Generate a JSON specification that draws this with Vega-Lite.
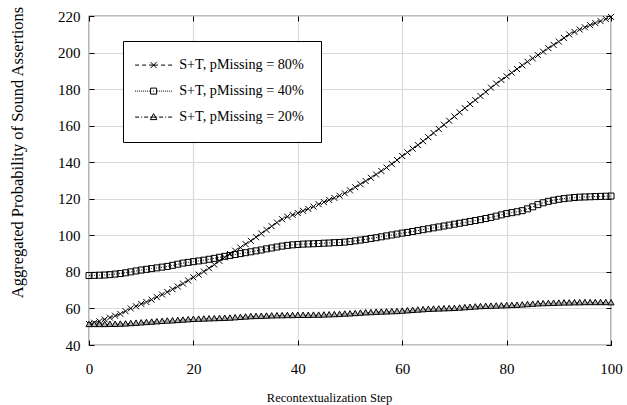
{
  "$schema": "https://vega.github.io/schema/vega-lite/v6.json",
  "width": 522,
  "height": 329,
  "autosize": {"type": "none"},
  "padding": {"left": 89, "top": 16, "right": 16, "bottom": 60},
  "config": {
    "font": "Liberation Serif",
    "view": {"stroke": "black", "strokeWidth": 1.2},
    "axis": {
      "labelFont": "Liberation Serif", "titleFont": "Liberation Serif",
      "labelFontSize": 15, "titleFontSize": 15, "titleFontWeight": "normal",
      "labelColor": "black", "titleColor": "black", "tickColor": "black",
      "domain": false, "gridColor": "#dadada", "gridWidth": 1.2,
      "tickSize": -5, "tickWidth": 1, "labelFlush": false
    }
  },
  "data": {"values": [
    {"step":0,"p80":51.5,"p40":78.0,"p20":51.2},
    {"step":1,"p80":52.2,"p40":78.1,"p20":51.2},
    {"step":2,"p80":53.0,"p40":78.2,"p20":51.2},
    {"step":3,"p80":54.0,"p40":78.3,"p20":51.2},
    {"step":4,"p80":55.0,"p40":78.5,"p20":51.3},
    {"step":5,"p80":56.0,"p40":78.8,"p20":51.3},
    {"step":6,"p80":57.0,"p40":79.1,"p20":51.4},
    {"step":7,"p80":58.5,"p40":79.5,"p20":51.5},
    {"step":8,"p80":60.0,"p40":80.0,"p20":51.7},
    {"step":9,"p80":61.2,"p40":80.5,"p20":51.9},
    {"step":10,"p80":62.5,"p40":81.0,"p20":52.1},
    {"step":11,"p80":63.5,"p40":81.4,"p20":52.3},
    {"step":12,"p80":64.8,"p40":81.8,"p20":52.5},
    {"step":13,"p80":66.2,"p40":82.2,"p20":52.7},
    {"step":14,"p80":67.6,"p40":82.6,"p20":52.9},
    {"step":15,"p80":69.0,"p40":83.0,"p20":53.1},
    {"step":16,"p80":70.5,"p40":83.6,"p20":53.2},
    {"step":17,"p80":72.0,"p40":84.2,"p20":53.4},
    {"step":18,"p80":73.6,"p40":84.8,"p20":53.6},
    {"step":19,"p80":75.3,"p40":85.2,"p20":53.8},
    {"step":20,"p80":77.0,"p40":85.6,"p20":54.0},
    {"step":21,"p80":78.5,"p40":86.0,"p20":54.1},
    {"step":22,"p80":80.2,"p40":86.4,"p20":54.2},
    {"step":23,"p80":82.0,"p40":86.9,"p20":54.3},
    {"step":24,"p80":84.0,"p40":87.4,"p20":54.4},
    {"step":25,"p80":86.0,"p40":88.0,"p20":54.5},
    {"step":26,"p80":88.0,"p40":88.5,"p20":54.6},
    {"step":27,"p80":89.8,"p40":89.0,"p20":54.7},
    {"step":28,"p80":91.6,"p40":89.5,"p20":54.9},
    {"step":29,"p80":93.3,"p40":90.0,"p20":55.1},
    {"step":30,"p80":95.2,"p40":90.5,"p20":55.3},
    {"step":31,"p80":97.0,"p40":91.0,"p20":55.5},
    {"step":32,"p80":99.0,"p40":91.5,"p20":55.6},
    {"step":33,"p80":101.0,"p40":92.0,"p20":55.7},
    {"step":34,"p80":103.0,"p40":92.6,"p20":55.8},
    {"step":35,"p80":105.0,"p40":93.1,"p20":55.9},
    {"step":36,"p80":107.0,"p40":93.6,"p20":56.0},
    {"step":37,"p80":108.8,"p40":94.1,"p20":56.0},
    {"step":38,"p80":110.2,"p40":94.5,"p20":56.1},
    {"step":39,"p80":111.2,"p40":94.8,"p20":56.1},
    {"step":40,"p80":112.2,"p40":95.0,"p20":56.2},
    {"step":41,"p80":113.4,"p40":95.2,"p20":56.2},
    {"step":42,"p80":114.5,"p40":95.3,"p20":56.2},
    {"step":43,"p80":115.7,"p40":95.4,"p20":56.3},
    {"step":44,"p80":117.0,"p40":95.5,"p20":56.3},
    {"step":45,"p80":118.2,"p40":95.7,"p20":56.4},
    {"step":46,"p80":119.4,"p40":95.8,"p20":56.5},
    {"step":47,"p80":120.5,"p40":96.0,"p20":56.6},
    {"step":48,"p80":121.7,"p40":96.1,"p20":56.7},
    {"step":49,"p80":123.0,"p40":96.3,"p20":56.9},
    {"step":50,"p80":124.6,"p40":96.6,"p20":57.0},
    {"step":51,"p80":126.3,"p40":97.0,"p20":57.2},
    {"step":52,"p80":128.0,"p40":97.4,"p20":57.4},
    {"step":53,"p80":129.7,"p40":97.8,"p20":57.6},
    {"step":54,"p80":131.5,"p40":98.3,"p20":57.7},
    {"step":55,"p80":133.3,"p40":98.7,"p20":57.9},
    {"step":56,"p80":135.2,"p40":99.2,"p20":58.0},
    {"step":57,"p80":137.1,"p40":99.7,"p20":58.1},
    {"step":58,"p80":139.1,"p40":100.2,"p20":58.2},
    {"step":59,"p80":141.2,"p40":100.7,"p20":58.3},
    {"step":60,"p80":143.4,"p40":101.2,"p20":58.5},
    {"step":61,"p80":145.4,"p40":101.6,"p20":58.7},
    {"step":62,"p80":147.4,"p40":102.1,"p20":58.9},
    {"step":63,"p80":149.4,"p40":102.6,"p20":59.1},
    {"step":64,"p80":151.5,"p40":103.1,"p20":59.3},
    {"step":65,"p80":153.7,"p40":103.6,"p20":59.5},
    {"step":66,"p80":156.0,"p40":104.1,"p20":59.6},
    {"step":67,"p80":158.2,"p40":104.6,"p20":59.7},
    {"step":68,"p80":160.5,"p40":105.1,"p20":59.8},
    {"step":69,"p80":162.7,"p40":105.6,"p20":59.9},
    {"step":70,"p80":165.0,"p40":106.1,"p20":60.0},
    {"step":71,"p80":167.3,"p40":106.6,"p20":60.2},
    {"step":72,"p80":169.6,"p40":107.1,"p20":60.4},
    {"step":73,"p80":171.8,"p40":107.6,"p20":60.6},
    {"step":74,"p80":174.0,"p40":108.1,"p20":60.8},
    {"step":75,"p80":176.2,"p40":108.6,"p20":61.0},
    {"step":76,"p80":178.5,"p40":109.2,"p20":61.1},
    {"step":77,"p80":180.8,"p40":109.8,"p20":61.2},
    {"step":78,"p80":183.0,"p40":110.5,"p20":61.3},
    {"step":79,"p80":185.0,"p40":111.2,"p20":61.4},
    {"step":80,"p80":187.0,"p40":111.9,"p20":61.5},
    {"step":81,"p80":189.0,"p40":112.4,"p20":61.6},
    {"step":82,"p80":191.0,"p40":112.9,"p20":61.7},
    {"step":83,"p80":193.0,"p40":113.5,"p20":61.9},
    {"step":84,"p80":195.0,"p40":114.5,"p20":62.1},
    {"step":85,"p80":196.8,"p40":115.6,"p20":62.3},
    {"step":86,"p80":198.6,"p40":116.8,"p20":62.5},
    {"step":87,"p80":200.5,"p40":117.8,"p20":62.6},
    {"step":88,"p80":202.4,"p40":118.6,"p20":62.7},
    {"step":89,"p80":204.2,"p40":119.2,"p20":62.8},
    {"step":90,"p80":206.0,"p40":119.7,"p20":62.9},
    {"step":91,"p80":208.0,"p40":120.1,"p20":63.0},
    {"step":92,"p80":209.9,"p40":120.4,"p20":63.0},
    {"step":93,"p80":211.3,"p40":120.7,"p20":63.1},
    {"step":94,"p80":212.6,"p40":120.9,"p20":63.1},
    {"step":95,"p80":213.8,"p40":121.0,"p20":63.2},
    {"step":96,"p80":215.0,"p40":121.1,"p20":63.2},
    {"step":97,"p80":216.1,"p40":121.2,"p20":63.2},
    {"step":98,"p80":217.2,"p40":121.3,"p20":63.2},
    {"step":99,"p80":218.4,"p40":121.4,"p20":63.2},
    {"step":100,"p80":219.5,"p40":121.5,"p20":63.1}
  ]},
  "transform": [{"fold": ["p80", "p40", "p20"], "as": ["series", "value"]}],
  "layer": [
    {
      "mark": {"type": "line", "color": "black", "strokeWidth": 1},
      "encoding": {
        "x": {"field": "step", "type": "quantitative",
          "scale": {"domain": [0, 100], "nice": false},
          "axis": {"values": [0, 20, 40, 60, 80, 100], "title": "Recontextualization Step",
            "labelPadding": 21, "titleFontSize": 12.5, "titleX": 240, "titleY": 56, "titleBaseline": "alphabetic", "titleAlign": "center"}},
        "y": {"field": "value", "type": "quantitative",
          "scale": {"domain": [40, 220], "nice": false},
          "axis": {"values": [40, 60, 80, 100, 120, 140, 160, 180, 200, 220],
            "title": "Aggregated Probability of Sound Assertions", "titleFontSize": 16.5,
            "labelPadding": 14, "titleX": -72, "titleY": 136, "titleAngle": -90,
            "titleBaseline": "middle", "titleAlign": "center"}},
        "strokeDash": {"field": "series", "type": "nominal",
          "scale": {"domain": ["p80", "p40", "p20"], "range": [[4, 3], [1, 1.5], [4, 2, 1, 2]]},
          "legend": null}
      }
    },
    {
      "mark": {"type": "point", "stroke": "black", "strokeWidth": 1, "size": 36, "opacity": 1, "filled": false},
      "encoding": {
        "x": {"field": "step", "type": "quantitative",
          "axis": {"orient": "top", "values": [0, 20, 40, 60, 80, 100], "labels": false, "title": null, "grid": false}},
        "y": {"field": "value", "type": "quantitative",
          "axis": {"orient": "right", "values": [40, 60, 80, 100, 120, 140, 160, 180, 200, 220], "labels": false, "title": null, "grid": false}},
        "fill": {"field": "series", "type": "nominal",
          "scale": {"domain": ["p80", "p40", "p20"], "range": ["transparent", "transparent", "#b0b0b0"]},
          "legend": null},
        "shape": {"field": "series", "type": "nominal",
          "scale": {"domain": ["p80", "p40", "p20"],
            "range": ["M-1,-1L1,1M-1,1L1,-1", "M-1,-1H1V1H-1Z", "M0,-1.1L1,0.7H-1Z"]},
          "legend": null}
      }
    },
    {
      "mark": {"type": "point", "stroke": "black", "strokeWidth": 1, "size": 1, "opacity": 0, "filled": false},
      "encoding": {
        "x": {"field": "step", "type": "quantitative", "axis": null},
        "y": {"field": "value", "type": "quantitative", "axis": null},
        "shape": {"field": "series", "type": "nominal",
          "scale": {"domain": ["p80", "p40", "p20"],
            "range": [
              "M-3.7,0H-2.9M-2.3,0H-1.5M-0.9,0H0.9M1.5,0H2.3M2.9,0H3.7M-0.6,-0.6L0.6,0.6M-0.6,0.6L0.6,-0.6",
              "M-3.7,0h0.2M-3.3,0h0.2M-2.9,0h0.2M-2.5,0h0.2M-2.1,0h0.2M-1.7,0h0.2M-1.3,0h0.2M-0.9,0h0.2M-0.1,0h0.2M0.7,0h0.2M1.1,0h0.2M1.5,0h0.2M1.9,0h0.2M2.3,0h0.2M2.7,0h0.2M3.1,0h0.2M3.5,0h0.2M-0.6,-0.6H0.6V0.6H-0.6Z",
              "M-3.7,0H-2.9M-2.5,0H-2.3M-1.9,0H-1.1M-0.7,0H0.7M1.1,0H1.9M2.3,0H2.5M2.9,0H3.7M0,-0.7L0.65,0.5H-0.65Z"
            ]},
          "legend": {
            "orient": "none", "legendX": 34, "legendY": 25, "title": null,
            "strokeColor": "black", "fillColor": "white", "padding": 17,
            "symbolSize": 100, "symbolOffset": 6.5, "labelOffset": 18.5, "rowPadding": 11,
            "symbolOpacity": 1, "symbolStrokeColor": "black", "symbolFillColor": "transparent", "symbolStrokeWidth": 1,
            "labelFont": "Liberation Serif", "labelFontSize": 14.2, "labelColor": "black",
            "labelExpr": "datum.value === 'p80' ? 'S+T, pMissing = 80%' : datum.value === 'p40' ? 'S+T, pMissing = 40%' : 'S+T, pMissing = 20%'"
          }
        }
      }
    }
  ],
  "resolve": {"axis": {"x": "independent", "y": "independent"}, "scale": {"shape": "independent"}}
}
